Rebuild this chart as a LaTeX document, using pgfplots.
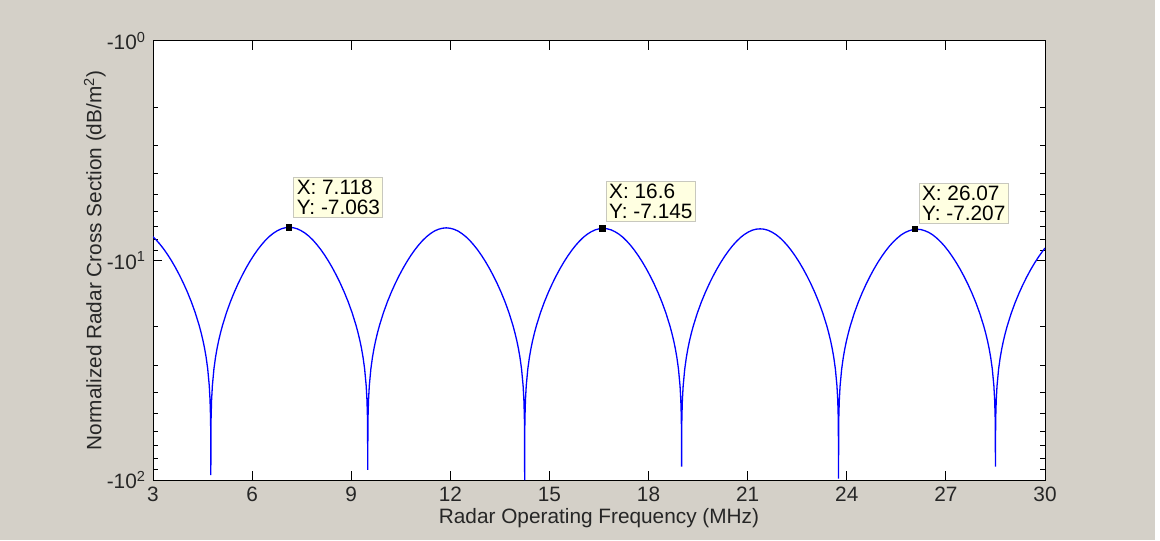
\documentclass[border=0pt]{standalone}
\usepackage{fontspec}
\setmainfont{Liberation Sans}
\usepackage{pgfplots}
\pgfplotsset{compat=1.18}
\definecolor{figbg}{RGB}{212,208,200}
\definecolor{tipbg}{RGB}{255,255,225}
\definecolor{tipbd}{RGB}{200,200,190}
\definecolor{txt}{RGB}{38,38,38}
\begin{document}
\begin{tikzpicture}
\fill[white] (0,0) rectangle (580pt,270pt);
\fill[figbg] (0,0) rectangle (577.5pt,270pt);
\begin{axis}[
  at={(76.5pt,30pt)}, anchor=south west,
  scale only axis, width=446pt, height=219.5pt,
  xmin=3, xmax=30, ymin=1, ymax=100,
  ymode=log, y dir=reverse,
  axis background/.style={fill=white},
  xtick={3,6,...,30},
  ytick={1,10,100},
  yticklabels={-10\textsuperscript{0},-10\textsuperscript{1},-10\textsuperscript{2}},
  minor ytick={2,3,4,5,6,7,8,9,20,30,40,50,60,70,80,90},
  tick align=inside,
  major tick length=4.5pt, minor tick length=2.5pt,
  tick style={black, line width=0.5pt},
  axis line style={black, line width=0.5pt},
  /pgf/number format/assume math mode=true,
  every tick label/.append style={font=\fontsize{10.4}{12}\selectfont, text=txt},
  xlabel={Radar Operating Frequency (MHz)},
  ylabel={Normalized Radar Cross Section (dB/m\textsuperscript{2})},
  label style={font=\fontsize{10.4}{12}\selectfont, text=txt},
  xlabel style={at={(axis description cs:0.5,-0.098)}, anchor=base},
  ylabel style={at={(axis description cs:-0.058,0.5)}, anchor=base},
  clip=true,
]
\addplot[blue, line width=0.65pt] coordinates {
(3,7.795)(3.0875,8.03)(3.20625,8.415)(3.325,8.87)(3.44375,9.41)(3.5625,10.04)(3.68125,10.78)(3.8,11.65)(3.91875,12.67)(4.0375,13.89)(4.15625,15.37)(4.275,17.23)(4.39375,19.67)(4.453125,21.23)(4.5125,23.14)(4.56,25.07)(4.6075,27.56)(4.655,31.07)(4.7025,37.09)(4.72625,43.11)(4.7405,51.07)(4.74525,57.09)
(4.75,94.9)
(4.75475,57.12)(4.7595,51.10)(4.77375,43.14)(4.7975,37.12)(4.845,31.10)(4.8925,27.59)(4.94,25.10)(4.9875,23.17)(5.046875,21.26)(5.10625,19.70)(5.225,17.26)(5.34375,15.40)(5.4625,13.92)(5.58125,12.70)(5.7,11.68)(5.81875,10.81)(5.9375,10.07)(6.05625,9.44)(6.175,8.90)(6.29375,8.45)(6.4125,8.06)(6.53125,7.75)(6.65,7.50)(6.76875,7.31)(6.8875,7.17)(7.00625,7.09)(7.125,7.063)
(7.24375,7.09)(7.3625,7.17)(7.48125,7.31)(7.6,7.50)(7.71875,7.75)(7.8375,8.06)(7.95625,8.45)(8.075,8.90)(8.19375,9.44)(8.3125,10.07)(8.43125,10.81)(8.55,11.68)(8.66875,12.70)(8.7875,13.92)(8.90625,15.40)(9.025,17.26)(9.14375,19.70)(9.203125,21.26)(9.2625,23.17)(9.31,25.10)(9.3575,27.59)(9.405,31.10)(9.4525,37.12)(9.47625,43.14)(9.4905,51.10)(9.49525,57.12)
(9.5,90)
(9.50475,57.16)(9.5095,51.14)(9.52375,43.18)(9.5475,37.16)(9.595,31.14)(9.6425,27.63)(9.69,25.14)(9.7375,23.21)(9.796875,21.30)(9.85625,19.74)(9.975,17.30)(10.09375,15.44)(10.2125,13.96)(10.33125,12.74)(10.45,11.72)(10.56875,10.85)(10.6875,10.11)(10.80625,9.48)(10.925,8.94)(11.04375,8.49)(11.1625,8.10)(11.28125,7.79)(11.4,7.54)(11.51875,7.34)(11.6375,7.21)(11.75625,7.13)(11.875,7.10)
(11.99375,7.13)(12.1125,7.21)(12.23125,7.34)(12.35,7.54)(12.46875,7.79)(12.5875,8.10)(12.70625,8.49)(12.825,8.94)(12.94375,9.48)(13.0625,10.11)(13.18125,10.85)(13.3,11.72)(13.41875,12.74)(13.5375,13.96)(13.65625,15.44)(13.775,17.30)(13.89375,19.74)(13.953125,21.30)(14.0125,23.21)(14.06,25.14)(14.1075,27.63)(14.155,31.14)(14.2025,37.16)(14.22625,43.18)(14.2405,51.14)(14.24525,57.16)
(14.25,100)
(14.25475,57.21)(14.2595,51.19)(14.27375,43.23)(14.2975,37.21)(14.345,31.19)(14.3925,27.68)(14.44,25.19)(14.4875,23.26)(14.546875,21.35)(14.60625,19.79)(14.725,17.35)(14.84375,15.49)(14.9625,14.01)(15.08125,12.79)(15.2,11.77)(15.31875,10.90)(15.4375,10.16)(15.55625,9.53)(15.675,8.99)(15.79375,8.53)(15.9125,8.15)(16.03125,7.83)(16.15,7.58)(16.26875,7.39)(16.3875,7.25)(16.50625,7.17)(16.625,7.145)
(16.74375,7.17)(16.8625,7.25)(16.98125,7.39)(17.1,7.58)(17.21875,7.83)(17.3375,8.15)(17.45625,8.53)(17.575,8.99)(17.69375,9.53)(17.8125,10.16)(17.93125,10.90)(18.05,11.77)(18.16875,12.79)(18.2875,14.01)(18.40625,15.49)(18.525,17.35)(18.64375,19.79)(18.703125,21.35)(18.7625,23.26)(18.81,25.19)(18.8575,27.68)(18.905,31.19)(18.9525,37.21)(18.97625,43.23)(18.9905,51.19)(18.99525,57.21)
(19,87)
(19.00475,57.24)(19.0095,51.22)(19.02375,43.26)(19.0475,37.24)(19.095,31.22)(19.1425,27.71)(19.19,25.22)(19.2375,23.29)(19.296875,21.38)(19.35625,19.82)(19.475,17.38)(19.59375,15.52)(19.7125,14.04)(19.83125,12.82)(19.95,11.80)(20.06875,10.93)(20.1875,10.19)(20.30625,9.56)(20.425,9.02)(20.54375,8.56)(20.6625,8.18)(20.78125,7.86)(20.9,7.61)(21.01875,7.42)(21.1375,7.28)(21.25625,7.20)(21.375,7.175)
(21.49375,7.20)(21.6125,7.28)(21.73125,7.42)(21.85,7.61)(21.96875,7.86)(22.0875,8.18)(22.20625,8.56)(22.325,9.02)(22.44375,9.56)(22.5625,10.19)(22.68125,10.93)(22.8,11.80)(22.91875,12.82)(23.0375,14.04)(23.15625,15.52)(23.275,17.38)(23.39375,19.82)(23.453125,21.38)(23.5125,23.29)(23.56,25.22)(23.6075,27.71)(23.655,31.22)(23.7025,37.24)(23.72625,43.26)(23.7405,51.22)(23.74525,57.24)
(23.75,98.5)
(23.75475,57.27)(23.7595,51.25)(23.77375,43.29)(23.7975,37.27)(23.845,31.25)(23.8925,27.74)(23.94,25.25)(23.9875,23.32)(24.046875,21.41)(24.10625,19.85)(24.225,17.41)(24.34375,15.55)(24.4625,14.07)(24.58125,12.85)(24.7,11.83)(24.81875,10.96)(24.9375,10.22)(25.05625,9.59)(25.175,9.05)(25.29375,8.59)(25.4125,8.21)(25.53125,7.90)(25.65,7.64)(25.76875,7.45)(25.8875,7.32)(26.00625,7.23)(26.125,7.207)
(26.24375,7.23)(26.3625,7.32)(26.48125,7.45)(26.6,7.64)(26.71875,7.90)(26.8375,8.21)(26.95625,8.59)(27.075,9.05)(27.19375,9.59)(27.3125,10.22)(27.43125,10.96)(27.55,11.83)(27.66875,12.85)(27.7875,14.07)(27.90625,15.55)(28.025,17.41)(28.14375,19.85)(28.203125,21.41)(28.2625,23.32)(28.31,25.25)(28.3575,27.74)(28.405,31.25)(28.4525,37.27)(28.47625,43.29)(28.4905,51.25)(28.49525,57.27)
(28.5,87)
(28.50475,57.30)(28.5095,51.28)(28.52375,43.32)(28.5475,37.30)(28.595,31.28)(28.6425,27.77)(28.69,25.28)(28.7375,23.35)(28.796875,21.44)(28.85625,19.88)(28.975,17.44)(29.09375,15.58)(29.2125,14.10)(29.33125,12.88)(29.45,11.86)(29.56875,10.99)(29.6875,10.25)(29.80625,9.62)(29.925,9.08)(30,8.78)
};
\addplot[only marks, mark=square*, mark size=1.3pt, black] coordinates {(7.118,7.063)(16.6,7.145)(26.07,7.207)};
\tikzset{tip/.style={anchor=south west, fill=tipbg, draw=tipbd, line width=0.5pt, align=left, inner sep=1.4pt, font=\fontsize{10.4}{10.2}\selectfont, text=black}}
\node[tip, xshift=2.2pt, yshift=4.5pt] at (axis cs:7.118,7.063) {X: 7.118\\Y: -7.063};
\node[tip, xshift=1.8pt, yshift=3pt] at (axis cs:16.6,7.145) {X: 16.6\\Y: -7.145};
\node[tip, xshift=1.8pt, yshift=2.5pt] at (axis cs:26.07,7.207) {X: 26.07\\Y: -7.207};
\end{axis}
\end{tikzpicture}
\end{document}
